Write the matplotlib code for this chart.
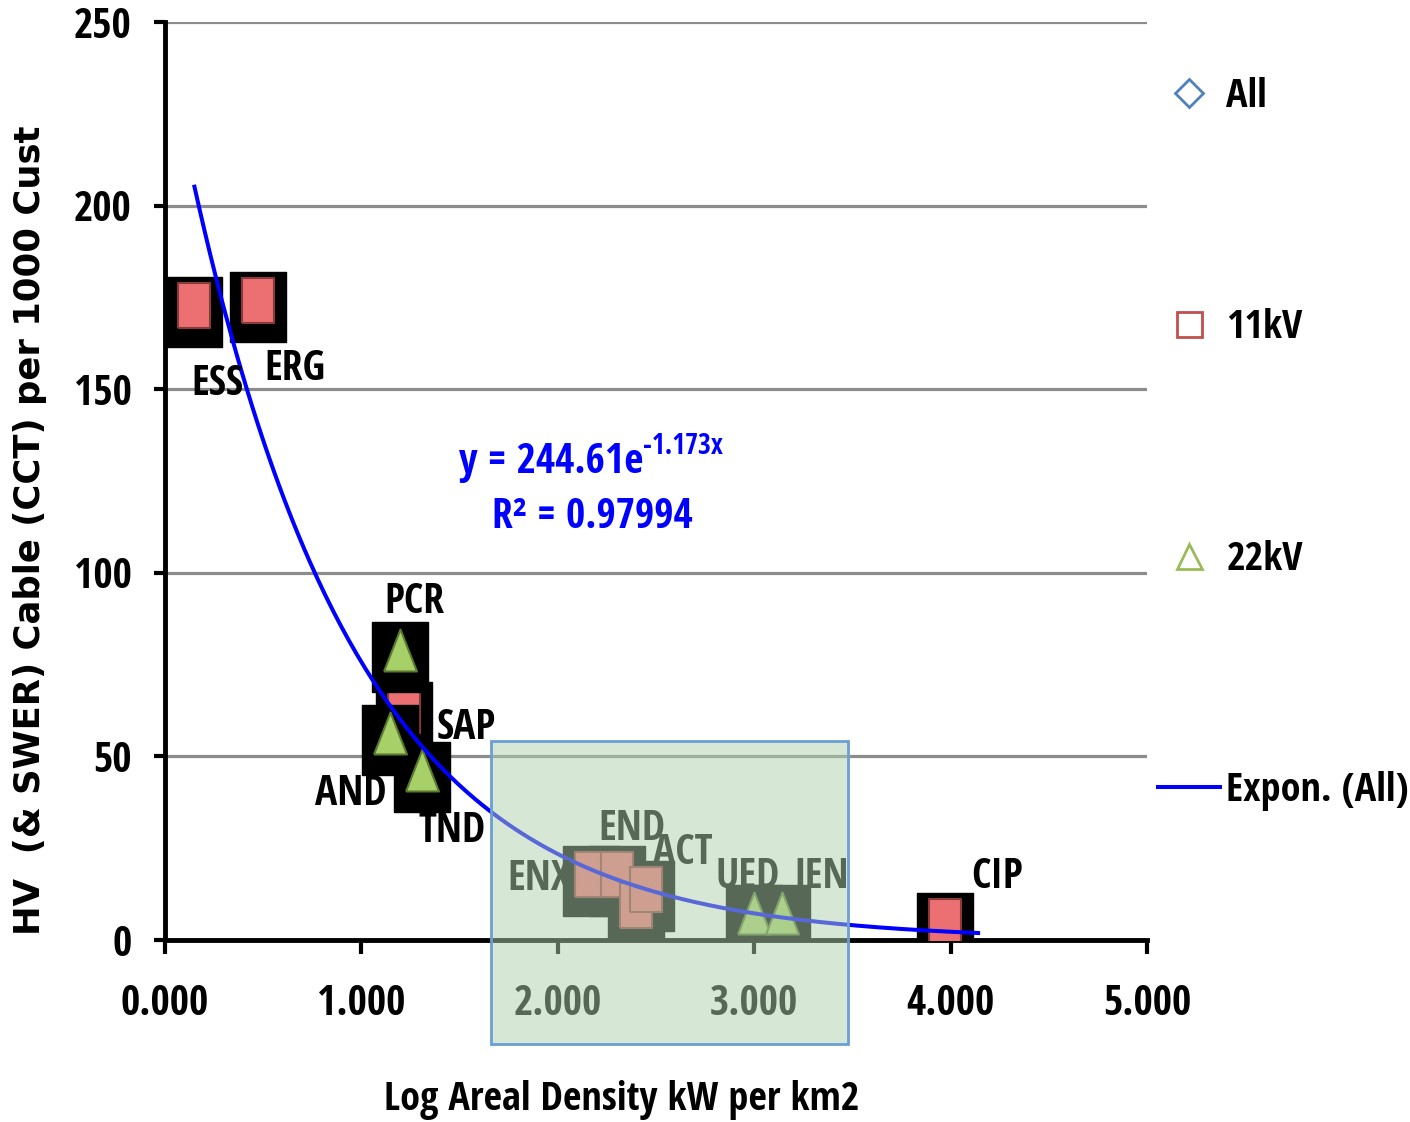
import numpy as np
import matplotlib
matplotlib.use("Agg")
import matplotlib.pyplot as plt
from matplotlib.path import Path
from matplotlib.lines import Line2D
from matplotlib.patches import Rectangle

plt.rcParams['font.family'] = ['Open Sans Condensed', 'DejaVu Sans']
plt.rcParams['font.weight'] = 'bold'

# 11kV utilities (log areal density, cable per 1000 cust)
kv11_names = ["ESS", "ERG", "SAP", "ENX", "END", "", "ACT", "CIP"]
kv11_x = [0.148, 0.474, 1.217, 2.17, 2.30, 2.40, 2.45, 3.97]
kv11_y = [173.0, 174.3, 62.6, 18.0, 18.0, 9.5, 14.0, 5.2]

# 22kV utilities
kv22_names = ["PCR", "AND", "TND", "UED", "JEN"]
kv22_x = [1.197, 1.146, 1.309, 3.00, 3.14]
kv22_y = [79.0, 56.4, 46.3, 7.3, 7.3]

# exponential trend shown on the chart
fit_a = 244.61
fit_b = -1.173
fit_r2 = 0.97994
fit_xmin, fit_xmax = 0.15, 4.14

# label offsets in pixels (dx, dy)
label_off = {
    "ESS": (23, -80), "ERG": (37, -70), "SAP": (62, -18), "ENX": (-52, -6),
    "END": (15, 44), "ACT": (37, 35), "CIP": (52, 43),
    "PCR": (14, 47), "AND": (-39, -62), "TND": (30, -62),
    "UED": (-7, 36), "JEN": (40, 36),
}

# custom markers, built in pixel units
box_mk = Path([(-28, -42), (28, -42), (28, 28), (-28, 28), (-28, -42)])
sq_mk = Path([(-16, -22.5), (16, -22.5), (16, 22.5), (-16, 22.5), (-16, -22.5)])
tri_mk = Path([(-16.5, -21), (16.5, -21), (0, 21), (-16.5, -21)])

fig = plt.figure(figsize=(14.1, 11.22), dpi=100)
ax = fig.add_axes([165 / 1410, 1 - 940 / 1122, 982 / 1410, 918 / 1122])

ax.set_xlim(0, 5)
ax.set_ylim(0, 250)
ax.set_xticks(np.arange(0, 6, 1))
ax.set_xticklabels([f"{v:.3f}" for v in range(6)])
ax.set_yticks(np.arange(0, 251, 50))
ax.yaxis.grid(True, color='#8c8c8c', linewidth=2.3)
ax.set_axisbelow(True)
for s in ["top", "right"]:
    ax.spines[s].set_visible(False)
for s in ["left", "bottom"]:
    ax.spines[s].set_linewidth(3.5)
    ax.spines[s].set_zorder(1)
ax.tick_params(axis='y', length=8, width=3, pad=16, labelsize=30)
ax.tick_params(axis='x', length=10, width=3, pad=22, labelsize=30)

# 11kV points with black backing boxes
ax.plot(kv11_x, kv11_y, ls='none', marker=box_mk, ms=60.5, color='black', zorder=3)
ax.plot(kv11_x, kv11_y, ls='none', marker=sq_mk, ms=32.4,
        markerfacecolor='#ec6f72', markeredgecolor='#8b3a3a', markeredgewidth=1.5, zorder=3.1)
# 22kV points
ax.plot(kv22_x, kv22_y, ls='none', marker=box_mk, ms=60.5, color='black', zorder=3.2)
ax.plot(kv22_x, kv22_y, ls='none', marker=tri_mk, ms=30.2,
        markerfacecolor='#a8d068', markeredgecolor='#5a7a30', markeredgewidth=1.5, zorder=3.3)

# trend line
xt = np.linspace(fit_xmin, fit_xmax, 300)
ax.plot(xt, fit_a * np.exp(fit_b * xt), color='#0000ff', lw=2.9, zorder=4)

for names, xs, ys in [(kv11_names, kv11_x, kv11_y), (kv22_names, kv22_x, kv22_y)]:
    for n, x, y in zip(names, xs, ys):
        if not n:
            continue
        dx, dy = label_off[n]
        ax.annotate(n, (x, y), xytext=(dx, dy), textcoords='offset pixels',
                    ha='center', va='center', fontsize=30, zorder=5)

# trend equation (superscript as a separate smaller text)
ax.text(2.434, 130.0, f"y = {fit_a}e", color='#0000ff', fontsize=30,
        ha='right', va='center', zorder=5)
ax.text(2.434, 134.5, f"{fit_b}x", color='#0000ff', fontsize=20,
        ha='left', va='center', zorder=5)
ax.text(2.174, 115.0, f"R² = {fit_r2}", color='#0000ff', fontsize=30,
        ha='center', va='center', zorder=5)

# highlighted region
ax.add_patch(Rectangle((1.66, -28.3), 1.818, 82.5, facecolor=(177 / 255, 208 / 255, 174 / 255, 0.5),
                       edgecolor='#6a9fd4', linewidth=2, clip_on=False, zorder=10))

# legend
handles = [
    Line2D([], [], ls='none', marker='D', ms=14, markerfacecolor='none',
           markeredgecolor='#4f81bd', markeredgewidth=2),
    Line2D([], [], ls='none', marker='s', ms=18, markerfacecolor='none',
           markeredgecolor='#c0504d', markeredgewidth=2),
    Line2D([], [], ls='none', marker='^', ms=18, markerfacecolor='none',
           markeredgecolor='#9bbb59', markeredgewidth=2),
    Line2D([], [], color='#0000ff', lw=2.9),
]
fig.legend(handles, ["All", "11kV", "22kV", "Expon. (All)"], loc='upper left',
           bbox_to_anchor=(1158 / 1410, 1 - 77 / 1122), frameon=False, fontsize=29,
           labelspacing=4.75, handlelength=1.55, handletextpad=0.15,
           borderpad=0, borderaxespad=0)

fig.text(30 / 1410, 1 - 530 / 1122, "HV  (& SWER) Cable (CCT) per 1000 Cust", rotation=90,
         ha='center', va='center', fontsize=25.5, fontweight='bold', family='DejaVu Sans')
fig.text(622 / 1410, 1 - 1100 / 1122, "Log Areal Density kW per km2",
         ha='center', va='center', fontsize=29)

fig.savefig("out.png", dpi=100)
